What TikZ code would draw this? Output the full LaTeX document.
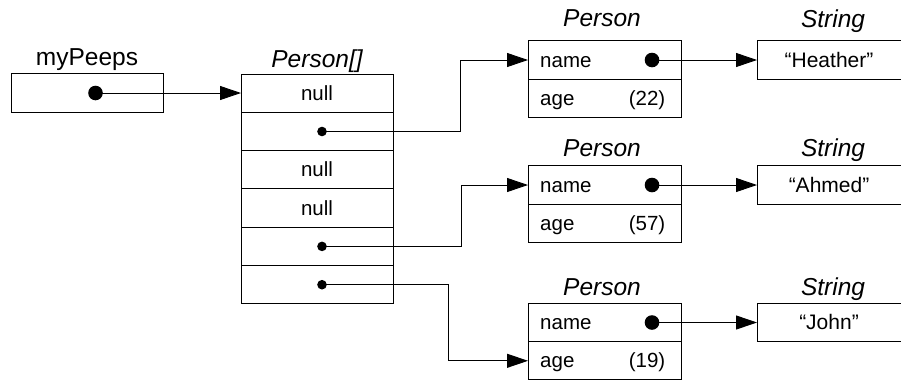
\documentclass[tikz,border=0pt]{standalone}
\usepackage{fontspec}
\setmainfont{Liberation Sans}
\usetikzlibrary{arrows.meta}
\begin{document}
\begin{tikzpicture}[x=1pt,y=-1pt,
  cell/.style={draw,line width=1pt,minimum height=38.3pt,inner sep=0pt,outer sep=0pt},
  arrcell/.style={cell,minimum width=152pt},
  pcell/.style={cell,minimum width=153pt},
  scell/.style={cell,minimum width=145pt},
  txt/.style={inner sep=0pt,font=\fontsize{20.5}{24}\selectfont},
  stxt/.style={inner sep=0pt,font=\fontsize{21}{25}\selectfont},
  lbl/.style={inner sep=0pt,anchor=base,font=\fontsize{24.5}{29}\selectfont\itshape},
  bigdot/.style={circle,fill=black,inner sep=0pt,minimum size=14.6pt},
  smalldot/.style={circle,fill=black,inner sep=0pt,minimum size=9.6pt},
  conn/.style={line width=0.9pt,-{Triangle[length=21pt,width=14pt]}}]
\useasboundingbox (0,0) rectangle (901,381);

% myPeeps
\node[lbl,font=\fontsize{24.5}{29}\selectfont] (mplbl) at (87,65.5) {myPeeps};
\node[arrcell] (mp) at (87,93) {};

% array
\node[lbl] (arrlbl) at (317,67) {Person[]};
\node[arrcell] (a1) at (317,93.2) {};
\node[arrcell] (a2) at (317,131.5) {};
\node[arrcell] (a3) at (317,169.8) {};
\node[arrcell] (a4) at (317,208.1) {};
\node[arrcell] (a5) at (317,246.4) {};
\node[arrcell] (a6) at (317,284.7) {};
\node[txt,anchor=base] (n1) at (317,100.2) {null};
\node[txt,anchor=base] (n3) at (317,176.8) {null};
\node[txt,anchor=base] (n4) at (317,215.1) {null};

% Person 1
\node[lbl] (p1lbl) at (602,26.7) {Person};
\node[pcell] (p1n) at (604.5,60) {};
\node[pcell] (p1a) at (604.5,98.3) {};
\node[txt,anchor=base west] (p1nt) at (540,67) {name};
\node[txt,anchor=base west] (p1at) at (540,105.3) {age};
\node[txt,anchor=base east] (p1av) at (665.5,105.3) {(22)};
\node[lbl] (s1lbl) at (833,27) {String};
\node[scell] (s1) at (829.5,60) {};
\node[stxt,anchor=base] (s1t) at (829,67) {“Heather”};

% Person 2
\node[lbl] (p2lbl) at (602,156.7) {Person};
\node[pcell] (p2n) at (604.5,185) {};
\node[pcell] (p2a) at (604.5,223.3) {};
\node[txt,anchor=base west] (p2nt) at (540,192) {name};
\node[txt,anchor=base west] (p2at) at (540,230.3) {age};
\node[txt,anchor=base east] (p2av) at (665.5,230.3) {(57)};
\node[lbl] (s2lbl) at (833,156.7) {String};
\node[scell] (s2) at (829.5,185) {};
\node[stxt,anchor=base] (s2t) at (829,192) {“Ahmed”};

% Person 3
\node[lbl] (p3lbl) at (602,295) {Person};
\node[pcell] (p3n) at (604.5,322.5) {};
\node[pcell] (p3a) at (604.5,360.8) {};
\node[txt,anchor=base west] (p3nt) at (540,329.5) {name};
\node[txt,anchor=base west] (p3at) at (540,367.8) {age};
\node[txt,anchor=base east] (p3av) at (665.5,367.8) {(19)};
\node[lbl] (s3lbl) at (833,295) {String};
\node[scell] (s3) at (829.5,322.5) {};
\node[stxt,anchor=base] (s3t) at (829,329.5) {“John”};

% dots
\node[bigdot] (mpd) at (95.5,93) {};
\node[smalldot] (a2d) at (322,131.5) {};
\node[smalldot] (a5d) at (322,246.4) {};
\node[smalldot] (a6d) at (322,284.7) {};
\node[bigdot] (p1d) at (652,60) {};
\node[bigdot] (p2d) at (652,185) {};
\node[bigdot] (p3d) at (652,322.5) {};

% bend coordinates
\coordinate (j1) at (460.5,0);
\coordinate (j2) at (461.5,0);
\coordinate (j3) at (448,0);

% connectors
\draw[conn] (mpd.center) -- (mpd.center -| a1.west);
\draw[conn] (a2d.center) -- (a2d.center -| j1) |- (p1n.west);
\draw[conn] (a5d.center) -- (a5d.center -| j2) |- (p2n.west);
\draw[conn] (a6d.center) -- (a6d.center -| j3) |- (p3a.west);
\draw[conn] (p1d.center) -- (s1.west);
\draw[conn] (p2d.center) -- (s2.west);
\draw[conn] (p3d.center) -- (s3.west);
\end{tikzpicture}
\end{document}
